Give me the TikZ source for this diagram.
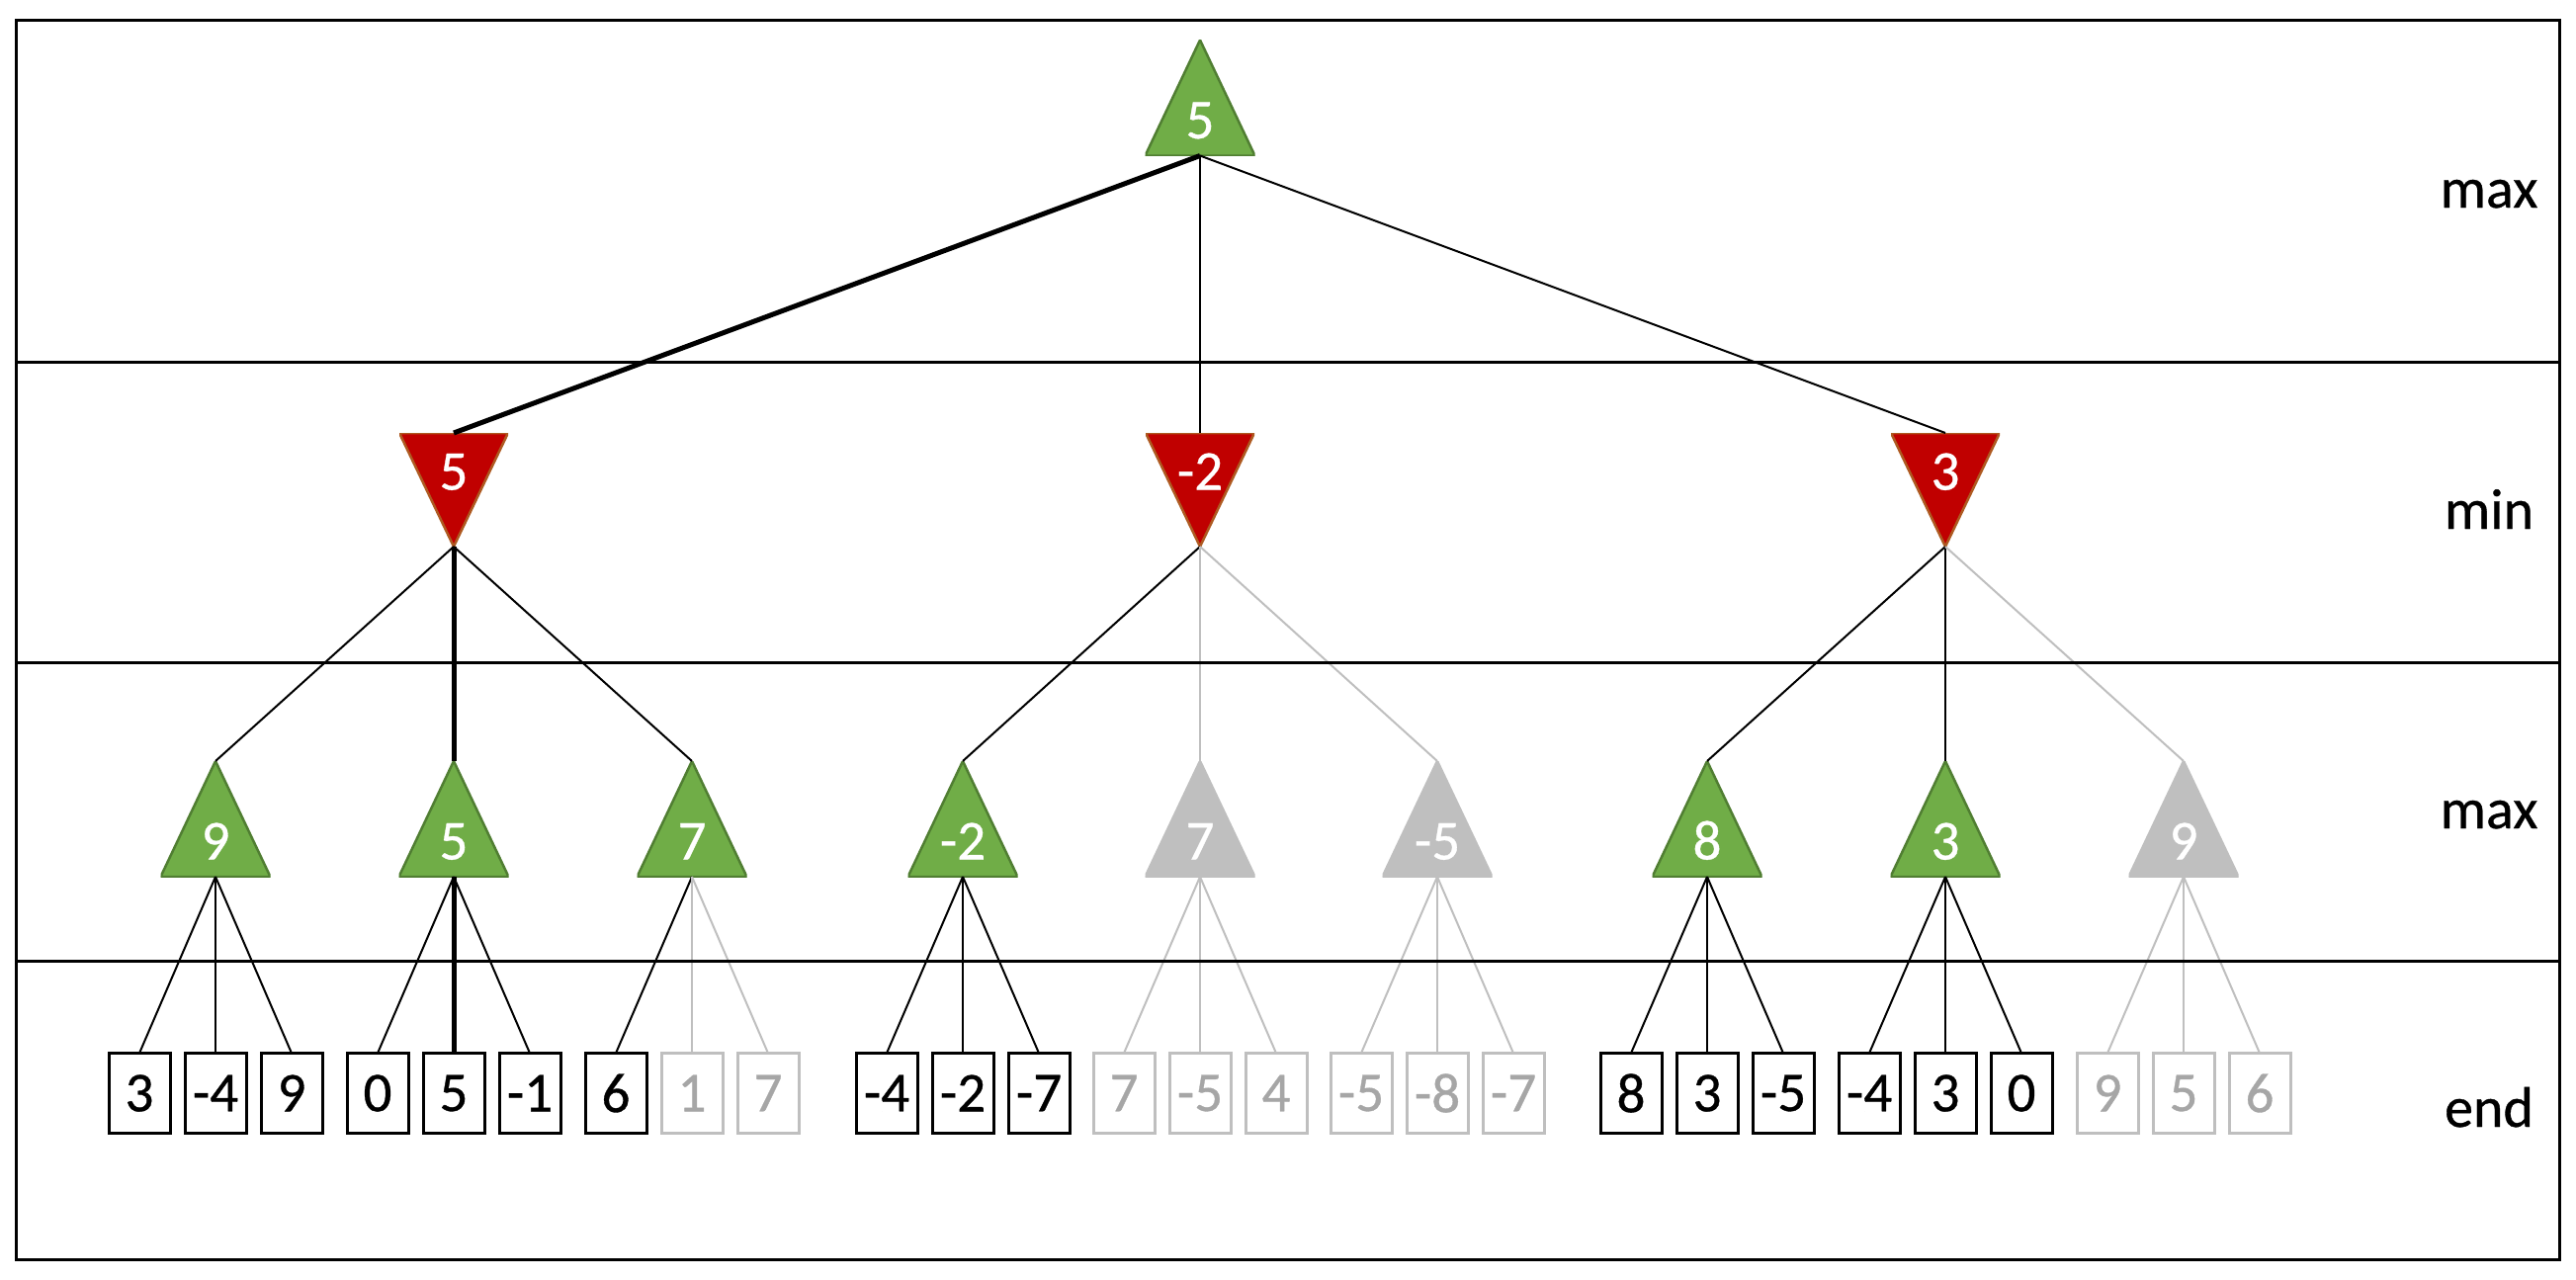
\documentclass[tikz,border=0pt]{standalone}
\usepackage{fontspec}
\setmainfont{Carlito}[FakeBold=0.6]
\definecolor{cg}{HTML}{70AD47}
\definecolor{cgd}{HTML}{507E32}
\definecolor{cr}{HTML}{C00000}
\definecolor{crd}{HTML}{AE5A21}
\definecolor{lg}{HTML}{BFBFBF}
\definecolor{tg}{HTML}{A6A6A6}
\begin{document}
\begin{tikzpicture}[x=1pt,y=-1pt,
  every node/.style={font=\fontsize{57}{60}\selectfont, inner sep=0pt, outer sep=0pt},
  upt/.style 2 args={minimum width=111pt, minimum height=117pt, text=white, text height=82pt, text depth=0pt,
    path picture={\filldraw[fill=#1, draw=#2, line width=2.5pt, line join=miter]
      (path picture bounding box.south west) -- (path picture bounding box.north) --
      (path picture bounding box.south east) -- cycle;}},
  mint/.style 2 args={minimum width=110pt, minimum height=115pt, text=white, text height=0pt, text depth=0pt,
    path picture={\filldraw[fill=#1, draw=#2, line width=2.5pt, line join=miter]
      (path picture bounding box.north west) -- (path picture bounding box.south) --
      (path picture bounding box.north east) -- cycle;}},
  maxg/.style={upt={cg}{cgd}},
  maxgray/.style={upt={lg}{lg}},
  minr/.style={mint={cr}{crd}},
  leafb/.style={draw=black, line width=3pt, minimum width=62pt, minimum height=81pt, text=black},
  leafg/.style={leafb, draw=lg, text=tg},
  lab/.style={font=\fontsize{58}{60}\selectfont, anchor=base, text=black},
  eb/.style={draw=black, line width=2pt},
  ek/.style={draw=black, line width=5pt},
  eg/.style={draw=lg, line width=2pt},
  frame/.style={draw=black, line width=3pt}
]
\useasboundingbox (0,0) rectangle (2606,1294);

% root and min level
\node[maxg] (r) at (1214,99) {5};
\node[minr] (a) at (459,495.5) {5};
\node[minr] (b) at (1214,495.5) {-2};
\node[minr] (c) at (1968,495.5) {3};

% max level
\node[maxg] (a1) at (218,828.5) {9};
\node[maxg] (a2) at (459,828.5) {5};
\node[maxg] (a3) at (700,828.5) {7};
\node[maxg] (b1) at (974,828.5) {-2};
\node[maxgray] (b2) at (1214,828.5) {7};
\node[maxgray] (b3) at (1454,828.5) {-5};
\node[maxg] (c1) at (1727,828.5) {8};
\node[maxg] (c2) at (1968,828.5) {3};
\node[maxgray] (c3) at (2209,828.5) {9};

% leaves
\node[leafb] (a1x) at (141,1106) {3};
\node[leafb] (a1y) at (218,1106) {-4};
\node[leafb] (a1z) at (295,1106) {9};
\node[leafb] (a2x) at (382,1106) {0};
\node[leafb] (a2y) at (459,1106) {5};
\node[leafb] (a2z) at (536,1106) {-1};
\node[leafb] (a3x) at (623,1106) {6};
\node[leafg] (a3y) at (700,1106) {1};
\node[leafg] (a3z) at (777,1106) {7};
\node[leafb] (b1x) at (897,1106) {-4};
\node[leafb] (b1y) at (974,1106) {-2};
\node[leafb] (b1z) at (1051,1106) {-7};
\node[leafg] (b2x) at (1137,1106) {7};
\node[leafg] (b2y) at (1214,1106) {-5};
\node[leafg] (b2z) at (1291,1106) {4};
\node[leafg] (b3x) at (1377,1106) {-5};
\node[leafg] (b3y) at (1454,1106) {-8};
\node[leafg] (b3z) at (1531,1106) {-7};
\node[leafb] (c1x) at (1650,1106) {8};
\node[leafb] (c1y) at (1727,1106) {3};
\node[leafb] (c1z) at (1804,1106) {-5};
\node[leafb] (c2x) at (1891,1106) {-4};
\node[leafb] (c2y) at (1968,1106) {3};
\node[leafb] (c2z) at (2045,1106) {0};
\node[leafg] (c3x) at (2132,1106) {9};
\node[leafg] (c3y) at (2209,1106) {5};
\node[leafg] (c3z) at (2286,1106) {6};

% level labels
\node[lab] (l1) at (2518,210) {max};
\node[lab] (l2) at (2518,535) {min};
\node[lab] (l3) at (2518,838) {max};
\node[lab] (l4) at (2518,1140) {end};

% edges
\draw[ek] (r.south) -- (a.north);
\draw[eb] (r.south) -- (b.north);
\draw[eb] (r.south) -- (c.north);
\draw[eb] (a.south) -- (a1.north);
\draw[ek] (a.south) -- (a2.north);
\draw[eb] (a.south) -- (a3.north);
\draw[eb] (b.south) -- (b1.north);
\draw[eg] (b.south) -- (b2.north);
\draw[eg] (b.south) -- (b3.north);
\draw[eb] (c.south) -- (c1.north);
\draw[eb] (c.south) -- (c2.north);
\draw[eg] (c.south) -- (c3.north);

\draw[eb] (a1.south) -- (a1x.north);
\draw[eb] (a1.south) -- (a1y.north);
\draw[eb] (a1.south) -- (a1z.north);
\draw[eb] (a2.south) -- (a2x.north);
\draw[ek] (a2.south) -- (a2y.north);
\draw[eb] (a2.south) -- (a2z.north);
\draw[eb] (a3.south) -- (a3x.north);
\draw[eg] (a3.south) -- (a3y.north);
\draw[eg] (a3.south) -- (a3z.north);
\draw[eb] (b1.south) -- (b1x.north);
\draw[eb] (b1.south) -- (b1y.north);
\draw[eb] (b1.south) -- (b1z.north);
\draw[eg] (b2.south) -- (b2x.north);
\draw[eg] (b2.south) -- (b2y.north);
\draw[eg] (b2.south) -- (b2z.north);
\draw[eg] (b3.south) -- (b3x.north);
\draw[eg] (b3.south) -- (b3y.north);
\draw[eg] (b3.south) -- (b3z.north);
\draw[eb] (c1.south) -- (c1x.north);
\draw[eb] (c1.south) -- (c1y.north);
\draw[eb] (c1.south) -- (c1z.north);
\draw[eb] (c2.south) -- (c2x.north);
\draw[eb] (c2.south) -- (c2y.north);
\draw[eb] (c2.south) -- (c2z.north);
\draw[eg] (c3.south) -- (c3x.north);
\draw[eg] (c3.south) -- (c3y.north);
\draw[eg] (c3.south) -- (c3z.north);

% frame and row separators
\draw[frame] (16,20) rectangle (2589,1274);
\draw[frame] (16,366.5) -- (2589,366.5);
\draw[frame] (16,670) -- (2589,670);
\draw[frame] (16,972) -- (2589,972);
\end{tikzpicture}
\end{document}
